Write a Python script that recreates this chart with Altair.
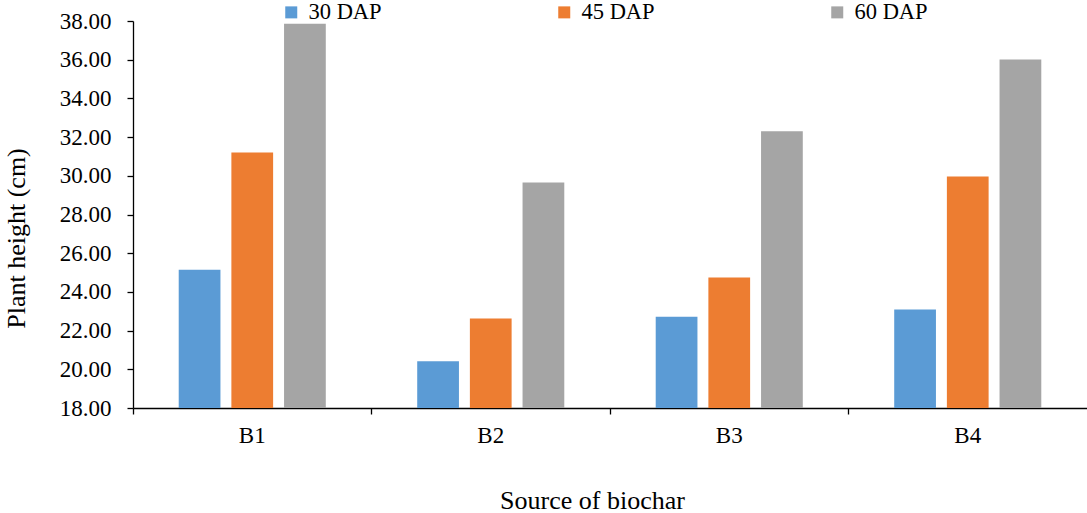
import altair as alt
import pandas as pd

# Plant height by biochar source, measured at three growth stages
sources = ["B1", "B2", "B3", "B4"]
stages = ["30 DAP", "45 DAP", "60 DAP"]
height_30 = [25.15, 20.41, 22.71, 23.09]
height_45 = [31.21, 22.63, 24.74, 29.97]
height_60 = [37.86, 29.66, 32.30, 36.01]
colors = ["#5B9BD5", "#ED7D31", "#A5A5A5"]

rows = []
for stage, values in zip(stages, [height_30, height_45, height_60]):
    for src, v in zip(sources, values):
        rows.append({"source": src, "stage": stage, "height": v})
df = pd.DataFrame(rows)

FONT = "Liberation Serif"
W, H = 954, 387

bars = alt.Chart(df).mark_bar().encode(
    x=alt.X(
        "source:N",
        sort=sources,
        scale=alt.Scale(paddingInner=0, paddingOuter=0),
        axis=alt.Axis(
            title="Source of biochar",
            labelAngle=0,
            bandPosition=0,
            tickSize=6,
            tickColor="black",
            domainColor="black",
            domainWidth=1.3,
            tickWidth=1.3,
            labelPadding=10,
            labelFont=FONT,
            labelFontSize=23,
            labelColor="black",
            titleFont=FONT,
            titleFontSize=26,
            titleColor="black",
            titleX=459,
            titleY=100,
            titleBaseline="alphabetic",
            titleFontWeight="normal",
        ),
    ),
    xOffset=alt.XOffset(
        "stage:N",
        sort=stages,
        scale=alt.Scale(paddingInner=0.2075, paddingOuter=0.868),
    ),
    y=alt.Y(
        "height:Q",
        scale=alt.Scale(domain=[18, 38], zero=False, nice=False),
        axis=alt.Axis(
            title="Plant height (cm)",
            values=[18, 20, 22, 24, 26, 28, 30, 32, 34, 36, 38],
            format=".2f",
            grid=False,
            tickSize=6,
            tickColor="black",
            domainColor="black",
            domainWidth=1.3,
            tickWidth=1.3,
            labelPadding=16,
            labelFont=FONT,
            labelFontSize=23,
            labelColor="black",
            titleFont=FONT,
            titleFontSize=26,
            titleColor="black",
            titleX=-104,
            titleY=217,
            titleFontWeight="normal",
        ),
    ),
    y2=alt.datum(18),
    color=alt.Color(
        "stage:N",
        sort=stages,
        scale=alt.Scale(domain=stages, range=colors),
        legend=alt.Legend(
            title=None,
            orient="none",
            legendX=147,
            legendY=-20,
            direction="horizontal",
            symbolType="square",
            symbolSize=144,
            symbolStrokeWidth=0,
            labelOffset=6,
            columnPadding=171,
            labelFont=FONT,
            labelFontSize=22.5,
            labelColor="black",
        ),
    ),
).properties(width=W, height=H)

chart = bars.configure(
    font=FONT,
    autosize=alt.AutoSizeParams(type="none"),
    padding={"left": 133, "top": 21, "right": 0, "bottom": 105},
).configure_view(stroke=None)

chart.save("out.html", embed_options={"renderer": "svg", "actions": False})
